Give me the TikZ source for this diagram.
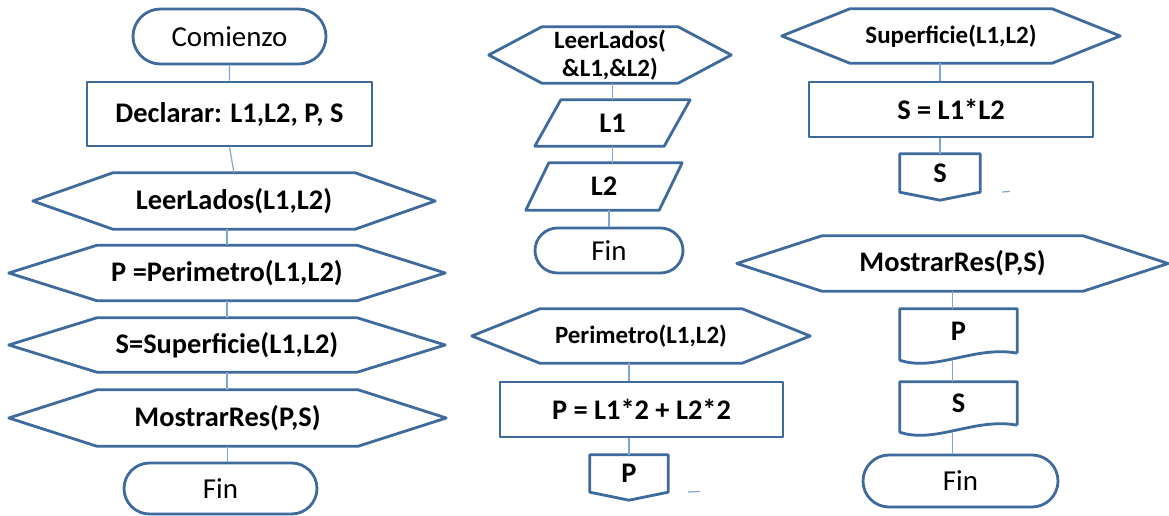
\documentclass[tikz,border=0pt]{standalone}
\usepackage{fontspec}
\setmainfont{Carlito}
\usetikzlibrary{shapes.misc}
\definecolor{borde}{RGB}{62,106,156}
\definecolor{enlace}{RGB}{128,166,214}
% contornos alrededor de nodos sin borde
\newcommand{\hexa}[2]{\draw[forma] (#1.west) -- ([xshift=#2]#1.north west) -- ([xshift=-#2]#1.north east)
  -- (#1.east) -- ([xshift=-#2]#1.south east) -- ([xshift=#2]#1.south west) -- cycle;}
\newcommand{\paral}[2]{\draw[forma] (#1.south west) -- ([xshift=#2]#1.north west) -- (#1.north east)
  -- ([xshift=-#2]#1.south east) -- cycle;}
\newcommand{\salida}[1]{\draw[forma] (#1.north west) -- (#1.north east) -- (#1.south east)
  -- ([yshift=-8bp]#1.south) -- (#1.south west) -- cycle;}
\newcommand{\docu}[1]{\draw[forma] (#1.south east) -- (#1.north east) -- (#1.north west) -- ([yshift=-7bp]#1.south west)
  .. controls ([xshift=35bp,yshift=-19bp]#1.south west) and ([xshift=-42bp,yshift=8bp]#1.south east) .. (#1.south east);}
\begin{document}
\begin{tikzpicture}[x=1bp,y=-1bp,
  forma/.style={draw=borde,line width=2.8bp,line join=round},
  enlace/.style={draw=enlace,line width=1.2bp},
  caja/.style={inner sep=0pt,font=\bfseries\fontsize{28.5}{30}\selectfont},
  chica/.style={inner sep=0pt,font=\bfseries\fontsize{25}{28}\selectfont,align=center},
  term/.style={rounded rectangle,forma,inner sep=0pt,font=\fontsize{29}{30}\selectfont},
  proc/.style={rectangle,forma,inner sep=0pt,font=\bfseries\fontsize{28.5}{30}\selectfont}]
\useasboundingbox[fill=white] (0,0) rectangle (1169,516);
% programa principal
\node[term,minimum width=193bp,minimum height=55bp] (com) at (229.5,36.5) {Comienzo};%
\node[proc,minimum width=285bp,minimum height=64bp] (decl) at (229.5,114) {Declarar: L1,L2, P, S};%
\node[caja,minimum width=402bp,minimum height=56bp] (leer) at (234,201) {LeerLados(L1,L2)};%
\node[caja,minimum width=436bp,minimum height=55bp] (per) at (227,273) {P =Perimetro(L1,L2)};%
\node[caja,minimum width=436bp,minimum height=54bp] (sup) at (227,345) {S=Superficie(L1,L2)};%
\node[caja,minimum width=437bp,minimum height=56bp] (mos) at (227.5,418) {MostrarRes(P,S)};%
\node[term,minimum width=193bp,minimum height=51bp] (fin) at (220.5,488.5) {Fin};%
\hexa{leer}{80bp}\hexa{per}{88bp}\hexa{sup}{88bp}\hexa{mos}{88bp}%
\draw[enlace] (com) -- (decl);%
\draw[enlace] (decl.south) -- (leer.north);%
\draw[enlace] (per.north |- leer.south) -- (per.north);%
\draw[enlace] (per.south) -- (per.south |- sup.north);%
\draw[enlace] (sup.south) -- (sup.south |- mos.north);%
\draw[enlace] (mos.south) -- (mos.south |- fin.north);%
% LeerLados
\node[chica,minimum width=242bp,minimum height=56bp] (leerM) at (610,55) {LeerLados(\\\&L1,\&L2)};%
\node[caja,minimum width=155bp,minimum height=46bp] (l1) at (612.5,123) {L1};%
\node[caja,minimum width=156bp,minimum height=47bp] (l2) at (604,186.5) {L2};%
\node[term,minimum width=148bp,minimum height=45bp] (finM) at (609,250.5) {Fin};%
\hexa{leerM}{53bp}\paral{l1}{26bp}\paral{l2}{23bp}%
\draw[enlace] (l1.north |- leerM.south) -- (l1.north);%
\draw[enlace] (l1.south) -- (l1.south |- l2.north);%
\draw[enlace] (finM.north |- l2.south) -- (finM.north);%
% Perimetro
\node[chica,minimum width=338bp,minimum height=54bp] (perM) at (641,336) {Perimetro(L1,L2)};%
\node[proc,minimum width=283bp,minimum height=55bp] (pform) at (641.5,409.5) {P = L1*2 + L2*2};%
\node[caja,minimum width=78bp,minimum height=37bp] (pout) at (629,473.5) {P};%
\hexa{perM}{68bp}\salida{pout}%
\draw[enlace] (pout.north |- perM.south) -- (pout.north |- pform.north);%
\draw[enlace] (pout.north |- pform.south) -- (pout.north);%
\draw[enlace] (688,492) -- (700,491.5);%
% Superficie
\node[chica,minimum width=338bp,minimum height=54bp] (supR) at (951,36) {Superficie(L1,L2)};%
\node[proc,minimum width=284bp,minimum height=55bp] (sform) at (951,109.5) {S = L1*L2};%
\node[caja,minimum width=80bp,minimum height=38bp] (sout) at (940,173) {S};%
\hexa{supR}{68bp}\salida{sout}%
\draw[enlace] (sout.north |- supR.south) -- (sout.north |- sform.north);%
\draw[enlace] (sout.north |- sform.south) -- (sout.north);%
\draw[enlace] (1002,192) -- (1010,191.5);%
% MostrarRes
\node[caja,minimum width=431bp,minimum height=55bp] (mosR) at (952.5,263.5) {MostrarRes(P,S)};%
\node[caja,minimum width=117bp,minimum height=44bp] (docP) at (958.5,331) {P};%
\node[caja,minimum width=117bp,minimum height=43bp] (docS) at (958.5,403.5) {S};%
\node[term,minimum width=195bp,minimum height=52bp] (finR) at (960.5,481) {Fin};%
\hexa{mosR}{85bp}\docu{docP}\docu{docS}%
\draw[enlace] (mosR.south) -- (mosR.south |- docP.north);%
\draw[enlace] (mosR.south |- docP.south) ++(0,7) -- (mosR.south |- docS.north);%
\draw[enlace] (mosR.south |- docS.south) ++(0,7) -- (mosR.south |- finR.north);%
\end{tikzpicture}
\end{document}
